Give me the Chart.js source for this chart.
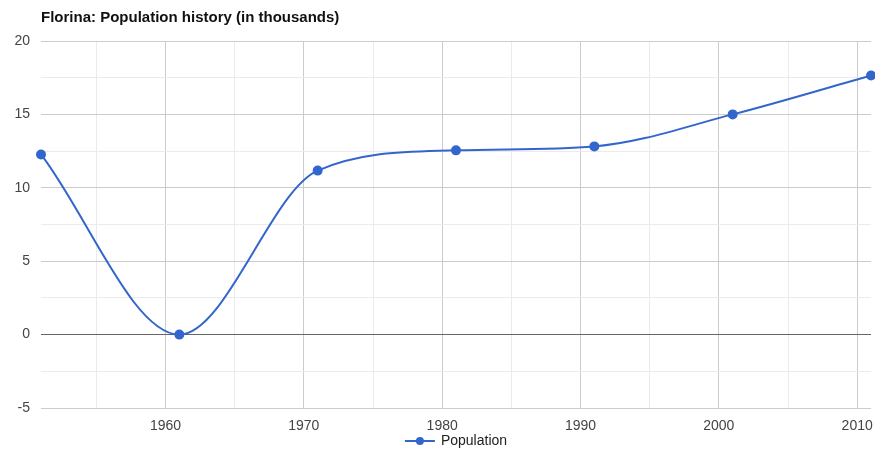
<!DOCTYPE html>
<html>
<head>
<meta charset="utf-8">
<script src="https://cdn.jsdelivr.net/npm/chart.js@4/dist/chart.umd.min.js"></script>
<style>
  body { margin: 0; background: #fff; }
  #wrap { width: 875px; height: 450px; }
</style>
</head>
<body>
<div id="wrap"><canvas id="myChart"></canvas></div>
<script>
// ---- data ----
const years = [1951, 1961, 1971, 1981, 1991, 2001, 2011];
const population = [12.27, 0, 11.17, 12.55, 12.82, 15.0, 17.65];
const seriesName = 'Population';
const chartTitle = 'Florina: Population history (in thousands)';

const FONT = 'Arial, "Liberation Sans", sans-serif';
const BLUE = '#3366cc';

// title drawn flush with the plot's left edge
const titlePlugin = {
  id: 'titleLeft',
  afterDraw(chart) {
    const { ctx, chartArea: { left } } = chart;
    ctx.save();
    ctx.font = 'bold 15px ' + FONT;
    ctx.fillStyle = '#111';
    ctx.textBaseline = 'middle';
    ctx.fillText(chartTitle, left, 18);
    ctx.restore();
  }
};

// legend: line with a dot, centred under the plot area
const legendPlugin = {
  id: 'lineLegend',
  afterDraw(chart) {
    const { ctx, chartArea: { left, right } } = chart;
    const ds = chart.data.datasets[0];
    ctx.save();
    ctx.font = '14px ' + FONT;
    const tw = ctx.measureText(ds.label).width;
    const total = 30 + 6 + tw;
    const x0 = (left + right) / 2 - total / 2;
    const y = 441;
    ctx.strokeStyle = ds.borderColor; ctx.lineWidth = 2;
    ctx.beginPath(); ctx.moveTo(x0, y); ctx.lineTo(x0 + 30, y); ctx.stroke();
    ctx.fillStyle = ds.borderColor;
    ctx.beginPath(); ctx.arc(x0 + 15, y, 4, 0, Math.PI * 2); ctx.fill();
    ctx.fillStyle = '#222';
    ctx.textBaseline = 'middle';
    ctx.fillText(ds.label, x0 + 36, y);
    ctx.restore();
  }
};

const config = {
  type: 'line',
  data: {
    datasets: [{
      label: seriesName,
      data: years.map((y, i) => ({ x: y, y: population[i] })),
      borderColor: BLUE,
      backgroundColor: BLUE,
      borderWidth: 2,
      pointRadius: 4,
      pointHoverRadius: 5,
      cubicInterpolationMode: 'monotone',
      clip: false,
      fill: false
    }]
  },
  options: {
    responsive: true,
    maintainAspectRatio: false,
    animation: false,
    layout: { autoPadding: false, padding: { top: 41, right: 4, left: 0, bottom: 0 } },
    scales: {
      x: {
        type: 'linear',
        min: 1951,
        max: 2011,
        afterBuildTicks: (s) => {
          const t = [];
          for (let v = 1955; v <= 2010; v += 5) t.push({ value: v });
          s.ticks = t;
        },
        afterFit: (s) => { s.height = 42; s.paddingLeft = 0; s.paddingRight = 0; },
        border: { display: false },
        grid: {
          drawTicks: false,
          color: (ctx) => {
            const v = ctx.tick && ctx.tick.value;
            if (v % 10 === 0) return '#cccccc';
            if (v % 5 === 0) return '#ebebeb';
            return 'rgba(0,0,0,0)';
          }
        },
        ticks: {
          autoSkip: false,
          maxRotation: 0,
          padding: 10,
          color: '#444',
          font: { family: FONT, size: 14 },
          callback: (v) => (v % 10 === 0 ? String(v) : '')
        }
      },
      y: {
        min: -5,
        max: 20,
        afterFit: (s) => { s.width = 41; },
        border: { display: false },
        grid: {
          drawTicks: false,
          color: (ctx) => {
            const v = ctx.tick && ctx.tick.value;
            if (v === 0) return '#666666';
            if (v % 5 === 0) return '#cccccc';
            return '#ebebeb';
          }
        },
        ticks: {
          stepSize: 2.5,
          padding: 11,
          color: '#444',
          font: { family: FONT, size: 14 },
          callback: (v) => (v % 5 === 0 ? String(v) : '')
        }
      }
    },
    plugins: {
      title: { display: false },
      legend: { display: false },
      tooltip: { enabled: true }
    }
  },
  plugins: [titlePlugin, legendPlugin]
};

const myChart = new Chart(document.getElementById('myChart'), config);
</script>
</body>
</html>
